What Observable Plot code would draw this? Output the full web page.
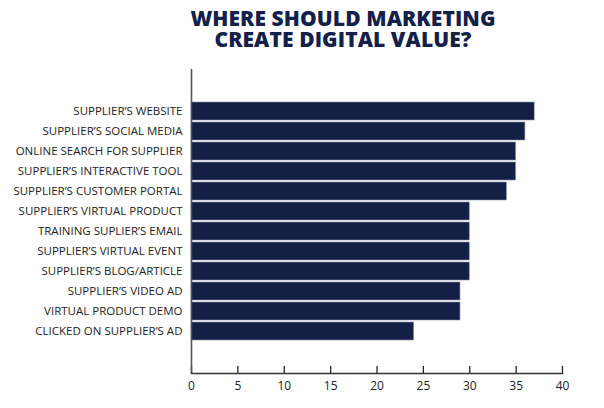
<!DOCTYPE html>
<html>
<head>
<meta charset="utf-8">
<script src="https://cdn.jsdelivr.net/npm/d3@7"></script>
<script src="https://cdn.jsdelivr.net/npm/@observablehq/plot@0.6"></script>
<style>
  html, body { margin: 0; padding: 0; background: #fff; }
  #wrap { width: 604px; height: 408px; overflow: hidden; }
  #title {
    box-sizing: border-box;
    width: 604px; height: 56px;
    padding: 8px 0 0 82px;
    text-align: center;
    font-family: "Open Sans", sans-serif;
    font-weight: 800;
    font-size: 21px;
    line-height: 21px;
    color: #13204a;
    letter-spacing: 0.1px;
  }
</style>
</head>
<body>
<div id="wrap">
  <div id="title">WHERE SHOULD MARKETING<br>CREATE DIGITAL VALUE?</div>
  <div id="chart"></div>
</div>
<script>
const categories = [
  "SUPPLIER’S WEBSITE",
  "SUPPLIER’S SOCIAL MEDIA",
  "ONLINE SEARCH FOR SUPPLIER",
  "SUPPLIER’S INTERACTIVE TOOL",
  "SUPPLIER’S CUSTOMER PORTAL",
  "SUPPLIER’S VIRTUAL PRODUCT",
  "TRAINING SUPLIER’S EMAIL",
  "SUPPLIER’S VIRTUAL EVENT",
  "SUPPLIER’S BLOG/ARTICLE",
  "SUPPLIER’S VIDEO AD",
  "VIRTUAL PRODUCT DEMO",
  "CLICKED ON SUPPLIER’S AD"
];
const values = [37, 36, 35, 35, 34, 30, 30, 30, 30, 29, 29, 24];
const xTicks = [0, 5, 10, 15, 20, 25, 30, 35, 40];

const data = categories.map((c, i) => ({category: c, value: values[i]}));

const chart = Plot.plot({
  width: 604,
  height: 352,
  marginTop: 13,
  marginBottom: 35,
  marginLeft: 191,
  marginRight: 42,
  style: {fontFamily: "Open Sans, sans-serif", fontSize: "11.5px", color: "#222", background: "#fff"},
  x: {domain: [0, 40], ticks: xTicks, label: null},
  y: {domain: categories, paddingInner: 0.1, paddingOuter: 1.5, label: null},
  marks: [
    Plot.barX(data, {x: "value", y: "category", fill: "#131f45", stroke: "#8a90a8", strokeWidth: 0.6}),
    Plot.axisY({tickSize: 0, tickPadding: 9, fontSize: 11.5, fill: "#222"}),
    Plot.axisX({ticks: xTicks, tickSize: 7, dy: -7, tickFormat: () => "", stroke: "#222", strokeWidth: 1.3}),
    Plot.axisX({ticks: xTicks, tickSize: 0, tickPadding: 8, fontSize: 12, fill: "#222"}),
    Plot.ruleX([0], {stroke: "#555", strokeWidth: 1.6}),
    Plot.frame({anchor: "bottom", stroke: "#333", strokeWidth: 1.6})
  ]
});
document.getElementById("chart").appendChild(chart);
</script>
</body>
</html>
